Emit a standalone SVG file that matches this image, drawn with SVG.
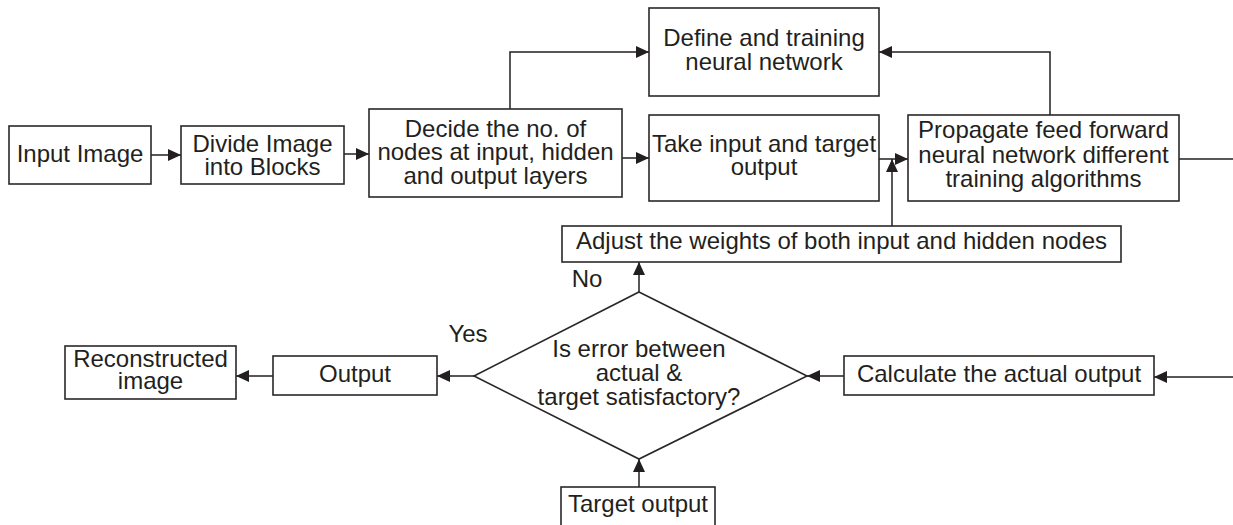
<svg xmlns="http://www.w3.org/2000/svg" width="1233" height="525" viewBox="0 0 1233 525">
  <style>
    .box { fill: #ffffff; stroke: #2b2728; stroke-width: 1.6; }
    .edge { fill: none; stroke: #231f20; stroke-width: 1.5; }
    text { font-family: "Liberation Sans", Arial, Helvetica, sans-serif; font-size: 24px; fill: #231f20; text-anchor: middle; }
  </style>
  <defs>
    <marker id="arrow" markerUnits="userSpaceOnUse" markerWidth="13" markerHeight="12" refX="13" refY="6" orient="auto">
      <path d="M0,0 L13,6 L0,12 z" fill="#231f20"/>
    </marker>
  </defs>

  <rect width="1233" height="525" fill="#ffffff"/>

  <!-- connectors -->
  <g id="connectors">
    <path class="edge" d="M151,155 H181" marker-end="url(#arrow)"/>
    <path class="edge" d="M344,154 H369" marker-end="url(#arrow)"/>
    <path class="edge" d="M510,109 V52 H649" marker-end="url(#arrow)"/>
    <path class="edge" d="M622,158 H649" marker-end="url(#arrow)"/>
    <path class="edge" d="M879,159 H908" marker-end="url(#arrow)"/>
    <path class="edge" d="M892,226 V159" marker-end="url(#arrow)"/>
    <path class="edge" d="M1050,115 V52 H879" marker-end="url(#arrow)"/>
    <path class="edge" d="M1179,159 H1233"/>
    <path class="edge" d="M1233,377 H1154" marker-end="url(#arrow)"/>
    <path class="edge" d="M844,376 H807" marker-end="url(#arrow)"/>
    <path class="edge" d="M474,376 H437" marker-end="url(#arrow)"/>
    <path class="edge" d="M273,376 H236" marker-end="url(#arrow)"/>
    <path class="edge" d="M639,292 V262" marker-end="url(#arrow)"/>
    <path class="edge" d="M639,487 V459" marker-end="url(#arrow)"/>
    <text x="587" y="287">No</text>
    <text x="468" y="342">Yes</text>
  </g>

  <g id="input-image">
    <rect class="box" x="9" y="126" width="142" height="58"/>
    <text x="80" y="162">Input Image</text>
  </g>

  <g id="divide-blocks">
    <rect class="box" x="181" y="126" width="163" height="58"/>
    <text x="262.5" y="152">Divide Image</text>
    <text x="262.5" y="175">into Blocks</text>
  </g>

  <g id="decide-nodes">
    <rect class="box" x="369" y="109" width="253" height="88"/>
    <text x="495.5" y="137">Decide the no. of</text>
    <text x="495.5" y="160">nodes at input, hidden</text>
    <text x="495.5" y="184">and output layers</text>
  </g>

  <g id="define-training">
    <rect class="box" x="649" y="8" width="230" height="88"/>
    <text x="764" y="46">Define and training</text>
    <text x="764" y="70">neural network</text>
  </g>

  <g id="take-input">
    <rect class="box" x="649" y="115" width="230" height="86"/>
    <text x="764" y="152">Take input and target</text>
    <text x="764" y="175">output</text>
  </g>

  <g id="propagate">
    <rect class="box" x="908" y="115" width="271" height="86"/>
    <text x="1043.5" y="138">Propagate feed forward</text>
    <text x="1043.5" y="163">neural network different</text>
    <text x="1043.5" y="187">training algorithms</text>
  </g>

  <g id="adjust-weights">
    <rect class="box" x="562" y="226" width="559" height="36"/>
    <text x="841.5" y="249">Adjust the weights of both input and hidden nodes</text>
  </g>

  <g id="error-check">
    <polygon class="box" points="639,292 807,376 639,459 474,376"/>
    <text x="639" y="357">Is error between</text>
    <text x="639" y="381">actual &amp;</text>
    <text x="639" y="405">target satisfactory?</text>
  </g>

  <g id="calculate-output">
    <rect class="box" x="844" y="356" width="310" height="39"/>
    <text x="999" y="382">Calculate the actual output</text>
  </g>

  <g id="output">
    <rect class="box" x="273" y="356" width="164" height="39"/>
    <text x="355" y="382">Output</text>
  </g>

  <g id="reconstructed-image">
    <rect class="box" x="65" y="346" width="171" height="53"/>
    <text x="150.5" y="367">Reconstructed</text>
    <text x="150.5" y="389">image</text>
  </g>

  <g id="target-output">
    <rect class="box" x="561" y="487" width="154" height="45"/>
    <text x="638" y="512">Target output</text>
  </g>
</svg>
